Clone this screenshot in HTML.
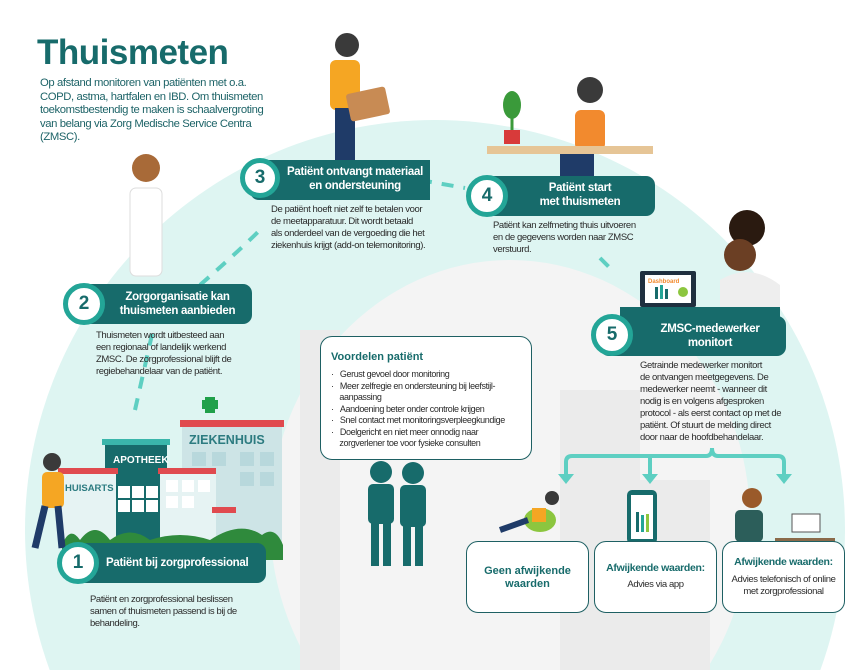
<!DOCTYPE html>
<html><head><meta charset="utf-8"><style>
*{margin:0;padding:0;box-sizing:border-box}
body{width:856px;height:670px;overflow:hidden;background:#fff;font-family:"Liberation Sans",sans-serif;position:relative}
.a{position:absolute}
.t{font-size:9.5px;line-height:12px;color:#2b2b2b;letter-spacing:-0.4px;white-space:nowrap}
.h{color:#fff;font-weight:bold;font-size:11.5px;line-height:14px;text-align:center;letter-spacing:-0.3px;white-space:nowrap}
.num{position:absolute;border-radius:50%;background:#fff;border:5px solid #23a597;color:#176b6b;font-weight:bold;font-size:19px;text-align:center}
.bar{position:absolute;background:#176b6b;border-radius:9px}
.bx{position:absolute;border:1.3px solid #1e6063;border-radius:12px;background:#fff}
</style></head><body>
<svg class="a" style="left:0;top:0" width="856" height="670">
<defs><clipPath id="c"><rect width="856" height="670"/></clipPath></defs>
<g clip-path="url(#c)">
<circle cx="435" cy="530" r="410" fill="#def5f2"/>
<ellipse cx="510" cy="520" rx="240" ry="260" fill="#f4f4f4"/>
<g fill="#ebebeb">
<rect x="300" y="330" width="40" height="340"/><rect x="560" y="390" width="80" height="280"/><rect x="620" y="480" width="90" height="190"/>
</g>
<g stroke="#5ecfc2" stroke-width="4" stroke-dasharray="12 10" fill="none">
<path d="M135 410 L153 330"/><path d="M200 285 Q240 250 262 228"/><path d="M420 180 L465 188"/><path d="M600 258 L610 268"/>
</g>
<rect x="182" y="420" width="100" height="125" fill="#cde4e6"/><rect x="180" y="420" width="104" height="7" fill="#e04a4f"/>
<g fill="#b8d8dc"><rect x="192" y="452" width="14" height="14"/><rect x="212" y="452" width="14" height="14"/><rect x="240" y="452" width="14" height="14"/><rect x="260" y="452" width="14" height="14"/><rect x="240" y="472" width="14" height="14"/><rect x="260" y="472" width="14" height="14"/></g>
<text x="189" y="444" font-family="Liberation Sans" font-weight="bold" font-size="12.5" fill="#2c7b80">ZIEKENHUIS</text>
<rect x="205" y="397" width="10" height="16" fill="#1fa04a"/><rect x="202" y="400" width="16" height="9" fill="#1fa04a"/>
<rect x="105" y="442" width="62" height="100" fill="#176b6b"/><rect x="102" y="439" width="68" height="6" fill="#3ab6ab"/>
<text x="113" y="463" font-family="Liberation Sans" font-weight="bold" font-size="10" fill="#fff">APOTHEEK</text>
<g fill="#fff"><rect x="118" y="486" width="12" height="12"/><rect x="132" y="486" width="12" height="12"/><rect x="146" y="486" width="12" height="12"/><rect x="118" y="500" width="12" height="12"/><rect x="132" y="500" width="12" height="12"/><rect x="146" y="500" width="12" height="12"/></g>
<rect x="60" y="472" width="56" height="70" fill="#e6f3f3"/><rect x="58" y="468" width="60" height="6" fill="#e04a4f"/>
<text x="65" y="491" font-family="Liberation Sans" font-weight="bold" font-size="9.5" fill="#2c7b80">HUISARTS</text>
<rect x="160" y="470" width="56" height="72" fill="#e6f3f3"/><rect x="158" y="468" width="58" height="6" fill="#e04a4f"/>
<g fill="#fff"><rect x="166" y="480" width="12" height="12"/><rect x="182" y="480" width="12" height="12"/><rect x="198" y="480" width="12" height="12"/><rect x="166" y="496" width="12" height="12"/><rect x="182" y="496" width="12" height="12"/></g>
<rect x="212" y="507" width="24" height="6" fill="#e04a4f"/>
<path d="M62 545 Q70 525 80 540 Q95 520 110 540 Q130 525 150 540 Q180 530 210 540 Q240 520 262 535 Q275 525 283 545 L283 560 L62 560Z" fill="#2f8a3c"/>
<g fill="#176b6b">
<circle cx="381" cy="472" r="11"/><rect x="368" y="484" width="26" height="40" rx="5"/><rect x="371" y="520" width="8" height="46"/><rect x="383" y="520" width="8" height="46"/>
<circle cx="413" cy="473" r="11"/><rect x="400" y="485" width="26" height="42" rx="5"/><rect x="403" y="522" width="8" height="44"/><rect x="415" y="522" width="8" height="44"/>
</g>
<g stroke="#5ecfc2" stroke-width="4" fill="none" stroke-linecap="round">
<path d="M566 478 V462 Q566 456 572 456 H706 Q712 456 712 448 Q712 456 718 456 H778 Q784 456 784 462 V478"/>
<path d="M650 456 V478"/>
</g>
<g fill="#5ecfc2"><path d="M558 474 L574 474 L566 484Z"/><path d="M642 474 L658 474 L650 484Z"/><path d="M776 474 L792 474 L784 484Z"/></g>
<circle cx="347" cy="45" r="12" fill="#3a3a3a"/><rect x="330" y="60" width="30" height="50" rx="6" fill="#f5a623"/><rect x="335" y="108" width="20" height="52" fill="#1f3b68"/>
<rect x="348" y="90" width="40" height="28" rx="3" fill="#c88b54" transform="rotate(-12 368 104)"/>
<circle cx="146" cy="168" r="14" fill="#a86a38"/><rect x="130" y="188" width="32" height="88" rx="6" fill="#fff" stroke="#ddd"/>
<circle cx="590" cy="90" r="13" fill="#3a3a3a"/><rect x="575" y="110" width="30" height="40" rx="6" fill="#f28a2e"/>
<rect x="487" y="146" width="166" height="8" fill="#e6c596"/><rect x="560" y="154" width="34" height="22" fill="#1f3b68"/>
<path d="M512 110 l0 30" stroke="#3a9a3a" stroke-width="3"/><ellipse cx="512" cy="105" rx="9" ry="14" fill="#3a9a3a"/><rect x="504" y="130" width="16" height="14" fill="#d83a3a"/>
<circle cx="747" cy="228" r="18" fill="#2a1a10"/><circle cx="740" cy="255" r="16" fill="#6b3f24"/><path d="M720 280 Q750 262 780 285 L780 308 L720 308Z" fill="#eee"/>
<rect x="640" y="271" width="56" height="36" rx="2" fill="#1f2f3f"/><rect x="645" y="275" width="46" height="28" fill="#fff"/>
<text x="648" y="283" font-family="Liberation Sans" font-size="6" font-weight="bold" fill="#f28a2e">Dashboard</text>
<rect x="655" y="287" width="3" height="12" fill="#176b6b"/><rect x="660" y="285" width="3" height="14" fill="#23a597"/><rect x="665" y="289" width="3" height="10" fill="#176b6b"/><circle cx="683" cy="292" r="5" fill="#8cc63f"/>
<rect x="620" y="307" width="160" height="10" fill="#176b6b"/>
<circle cx="52" cy="462" r="9" fill="#3a3a3a"/><rect x="42" y="472" width="22" height="36" rx="5" fill="#f5a623"/><path d="M45 506 L35 548 M58 506 L62 548" stroke="#1f3b68" stroke-width="7"/>
<circle cx="552" cy="498" r="7" fill="#3a3a3a"/><ellipse cx="540" cy="520" rx="16" ry="12" fill="#8cc63f"/><rect x="532" y="508" width="14" height="14" fill="#f5a623"/><path d="M528 520 L500 530" stroke="#1f3b68" stroke-width="6"/>
<rect x="627" y="490" width="30" height="54" rx="5" fill="#176b6b"/><rect x="631" y="495" width="22" height="44" fill="#fff"/><rect x="636" y="512" width="3" height="20" fill="#176b6b"/><rect x="641" y="515" width="3" height="17" fill="#23a597"/><rect x="646" y="514" width="3" height="18" fill="#8cc63f"/>
<circle cx="752" cy="498" r="10" fill="#9a5a2a"/><rect x="735" y="510" width="28" height="32" rx="5" fill="#2c5e5a"/><rect x="792" y="514" width="28" height="18" fill="#fff" stroke="#555"/><rect x="775" y="538" width="60" height="4" fill="#8a6a4a"/>
</g></svg>

<div class="a" style="left:37px;top:33px;font-size:35px;font-weight:bold;color:#176b6b;letter-spacing:-0.5px">Thuismeten</div>
<div class="a" style="left:40px;top:77px;font-size:11.3px;line-height:13.5px;color:#1e6468;letter-spacing:-0.4px;white-space:nowrap">Op afstand monitoren van patiënten met o.a.<br>COPD, astma, hartfalen en IBD. Om thuismeten<br>toekomstbestendig te maken is schaalvergroting<br>van belang via Zorg Medische Service Centra<br>(ZMSC).</div>

<div class="bar" style="left:250px;top:160px;width:180px;height:40px;border-radius:9px 0 0 9px"></div>
<div class="num" style="left:240px;top:158px;width:40px;height:40px;line-height:30px">3</div>
<div class="a h" style="left:280px;top:165px;width:150px">Patiënt ontvangt materiaal<br>en ondersteuning</div>
<div class="a t" style="left:271px;top:204px">De patiënt hoeft niet zelf te betalen voor<br>de meetapparatuur. Dit wordt betaald<br>als onderdeel van de vergoeding die het<br>ziekenhuis krijgt (add-on telemonitoring).</div>

<div class="bar" style="left:480px;top:176px;width:175px;height:40px"></div>
<div class="num" style="left:466px;top:175px;width:42px;height:42px;line-height:32px">4</div>
<div class="a h" style="left:510px;top:181px;width:140px">Patiënt start<br>met thuismeten</div>
<div class="a t" style="left:493px;top:220px">Patiënt kan zelfmeting thuis uitvoeren<br>en de gegevens worden naar ZMSC<br>verstuurd.</div>

<div class="bar" style="left:70px;top:284px;width:182px;height:40px"></div>
<div class="num" style="left:63px;top:283px;width:42px;height:42px;line-height:32px">2</div>
<div class="a h" style="left:105px;top:290px;width:145px">Zorgorganisatie kan<br>thuismeten aanbieden</div>
<div class="a t" style="left:96px;top:330px">Thuismeten wordt uitbesteed aan<br>een regionaal of landelijk werkend<br>ZMSC. De zorgprofessional blijft de<br>regiebehandelaar van de patiënt.</div>

<div class="bar" style="left:600px;top:316px;width:186px;height:40px"></div>
<div class="num" style="left:591px;top:314px;width:42px;height:42px;line-height:32px">5</div>
<div class="a h" style="left:640px;top:322px;width:140px">ZMSC-medewerker<br>monitort</div>
<div class="a t" style="left:640px;top:360px">Getrainde medewerker monitort<br>de ontvangen meetgegevens. De<br>medewerker neemt - wanneer dit<br>nodig is en volgens afgesproken<br>protocol - als eerst contact op met de<br>patiënt. Of stuurt de melding direct<br>door naar de hoofdbehandelaar.</div>

<div class="bar" style="left:65px;top:543px;width:201px;height:40px"></div>
<div class="num" style="left:57px;top:542px;width:42px;height:42px;line-height:32px">1</div>
<div class="a h" style="left:106px;top:556px;text-align:left">Patiënt bij zorgprofessional</div>
<div class="a t" style="left:90px;top:594px">Patiënt en zorgprofessional beslissen<br>samen of thuismeten passend is bij de<br>behandeling.</div>

<div class="bx" style="left:320px;top:336px;width:212px;height:124px"></div>
<div class="a" style="left:331px;top:351px;font-size:11px;font-weight:bold;color:#176b6b">Voordelen patiënt</div>
<div class="a t" style="left:331px;top:369px;font-size:9px;line-height:11.5px">
<div>·&nbsp;&nbsp;&nbsp;Gerust gevoel door monitoring</div>
<div>·&nbsp;&nbsp;&nbsp;Meer zelfregie en ondersteuning bij leefstijl-<br>&nbsp;&nbsp;&nbsp;&nbsp;aanpassing</div>
<div>·&nbsp;&nbsp;&nbsp;Aandoening beter onder controle krijgen</div>
<div>·&nbsp;&nbsp;&nbsp;Snel contact met monitoringsverpleegkundige</div>
<div>·&nbsp;&nbsp;&nbsp;Doelgericht en niet meer onnodig naar<br>&nbsp;&nbsp;&nbsp;&nbsp;zorgverlener toe voor fysieke consulten</div></div>

<div class="bx" style="left:466px;top:541px;width:123px;height:72px"></div>
<div class="a" style="left:466px;top:565px;width:123px;text-align:center;font-size:11px;font-weight:bold;color:#176b6b;line-height:13px">Geen afwijkende<br>waarden</div>
<div class="bx" style="left:594px;top:541px;width:123px;height:72px"></div>
<div class="a" style="left:594px;top:562px;width:123px;text-align:center;font-size:10.5px;font-weight:bold;color:#176b6b;letter-spacing:-0.3px">Afwijkende waarden:</div>
<div class="a t" style="left:594px;top:579px;width:123px;text-align:center">Advies via app</div>
<div class="bx" style="left:722px;top:541px;width:123px;height:72px"></div>
<div class="a" style="left:722px;top:556px;width:123px;text-align:center;font-size:10.5px;font-weight:bold;color:#176b6b;letter-spacing:-0.3px">Afwijkende waarden:</div>
<div class="a t" style="left:722px;top:574px;width:123px;text-align:center">Advies telefonisch of online<br>met zorgprofessional</div>
</body></html>
